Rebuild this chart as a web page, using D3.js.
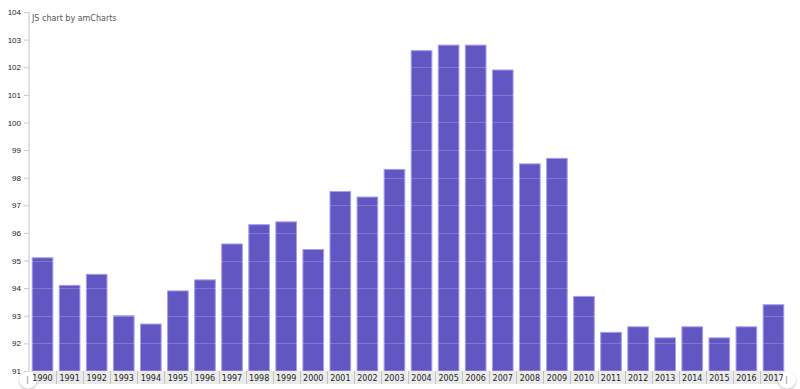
<!DOCTYPE html>
<html>
<head>
<meta charset="utf-8">
<script src="https://cdn.jsdelivr.net/npm/d3@7"></script>
<style>
  body { margin:0; background:#fff; }
  svg { display:block; font-family: "DejaVu Sans", Verdana, sans-serif; }
</style>
</head>
<body>
<svg id="chart" width="800" height="389"></svg>
<script>
var years = ["1990","1991","1992","1993","1994","1995","1996","1997","1998","1999",
  "2000","2001","2002","2003","2004","2005","2006","2007","2008","2009",
  "2010","2011","2012","2013","2014","2015","2016","2017"];
var values = [95.1, 94.1, 94.5, 93.0, 92.7, 93.9, 94.3, 95.6, 96.3, 96.4,
  95.4, 97.5, 97.3, 98.3, 102.6, 102.8, 102.8, 101.9, 98.5, 98.7,
  93.7, 92.4, 92.6, 92.2, 92.6, 92.2, 92.6, 93.4];
var yTicks = [91, 92, 93, 94, 95, 96, 97, 98, 99, 100, 101, 102, 103, 104];

var svg = d3.select("#chart");
var margin = {top: 12, right: 13, bottom: 18, left: 29};
var width = 800 - margin.left - margin.right,
    height = 389 - margin.top - margin.bottom;

var x = d3.scaleBand().domain(years).range([margin.left, margin.left + width]).paddingInner(0.2).paddingOuter(0.1);
var xCat = d3.scaleBand().domain(years).range([margin.left, margin.left + width]);
var y = d3.scaleLinear().domain([91, 104]).range([margin.top + height, margin.top]);

// bars
svg.append("g")
  .selectAll("rect")
  .data(values)
  .enter().append("rect")
  .attr("x", function(d, i) { return x(years[i]) + 0.5; })
  .attr("width", x.bandwidth() - 1)
  .attr("y", function(d) { return y(d); })
  .attr("height", function(d) { return y(91) - y(d); })
  .attr("fill", "#6257c2")
  .attr("stroke", "#a49df0")
  .attr("stroke-width", 1);

// grid lines (only visible over bars)
svg.append("g")
  .selectAll("line")
  .data(yTicks.slice(1, -1))
  .enter().append("line")
  .attr("x1", margin.left).attr("x2", margin.left + width)
  .attr("y1", function(d) { return Math.round(y(d)) + 0.5; })
  .attr("y2", function(d) { return Math.round(y(d)) + 0.5; })
  .attr("stroke", "#ffffff")
  .attr("stroke-opacity", 0.2);

// y axis
var yAxis = svg.append("g")
  .attr("transform", "translate(" + margin.left + ",0)")
  .call(d3.axisLeft(y).tickValues(yTicks).tickSize(5).tickPadding(3).tickFormat(d3.format("d")));
yAxis.select(".domain").attr("stroke", "#e2e2e2").attr("stroke-width", 2).attr("d", "M0," + margin.top + "V" + (margin.top + height));
yAxis.selectAll(".tick line").attr("stroke", "#c8c8c8");
yAxis.selectAll(".tick text").attr("fill", "#222").attr("font-size", 8);

// category band at bottom
var band = svg.append("g");
band.append("rect")
  .attr("x", margin.left).attr("y", margin.top + height)
  .attr("width", width - 2).attr("height", 13)
  .attr("fill", "#ebebeb");
band.selectAll("line")
  .data(years.slice(1))
  .enter().append("line")
  .attr("x1", function(d) { return Math.round(xCat(d)) + 0.5; })
  .attr("x2", function(d) { return Math.round(xCat(d)) + 0.5; })
  .attr("y1", margin.top + height).attr("y2", margin.top + height + 13)
  .attr("stroke", "#c4c4c4");

// scrollbar grips (behind the labels)
var defs = svg.append("defs");
var f = defs.append("filter").attr("id", "sh").attr("x", "-50%").attr("y", "-50%").attr("width", "200%").attr("height", "200%");
f.append("feDropShadow").attr("dx", 0).attr("dy", 1).attr("stdDeviation", 1.2).attr("flood-color", "#000").attr("flood-opacity", 0.35);
var grips = svg.append("g");
[{cx: 28, cy: 380}, {cx: 787, cy: 380}].forEach(function(g) {
  grips.append("circle").attr("cx", g.cx).attr("cy", g.cy).attr("r", 8.5)
    .attr("fill", "#fff").attr("filter", "url(#sh)");
  grips.append("line").attr("x1", g.cx - 0.5).attr("x2", g.cx - 0.5).attr("y1", g.cy - 4).attr("y2", g.cy + 4)
    .attr("stroke", "#bbb").attr("stroke-width", 1.5);
});

svg.append("g")
  .selectAll("text")
  .data(years)
  .enter().append("text")
  .attr("x", function(d) { return xCat(d) + xCat.bandwidth() / 2; })
  .attr("y", margin.top + height + 10)
  .attr("text-anchor", "middle")
  .attr("font-size", 8)
  .attr("fill", "#222")
  .text(function(d) { return d; });

svg.append("text")
  .attr("x", 32).attr("y", 21)
  .attr("font-size", 8)
  .attr("fill", "#555")
  .text("JS chart by amCharts");
</script>
</body>
</html>
